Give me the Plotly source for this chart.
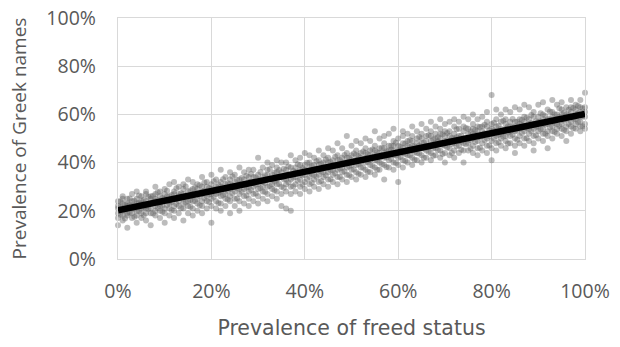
import plotly.graph_objects as go

# Prevalence of freed status (%) – x columns, and Greek-name prevalence (%) read per column
freed_0_20 = list(range(0, 20))
greek_0_20 = [
    [14,17,19,21,22,24],[16,18,20,21,23,25,26],[13,18,19,22,23,25],[17,19,21,22,24,27],
    [15,18,20,22,23,25,28],[17,19,21,23,24,26],[16,19,21,22,24,27,28],[14,19,21,23,25,26],
    [18,20,22,24,25,27,30],[17,20,22,23,26,28],[15,19,21,24,25,27,29],[18,21,23,24,26,31],
    [17,20,22,25,27,28,32],[19,22,24,26,27,30],[16,21,23,25,27,29,31],[19,22,24,26,28,33],
    [18,21,24,26,27,29,32],[20,23,25,27,29,31],[19,22,24,27,28,30,34],[21,24,26,28,30,32],
]
freed_20_40 = list(range(20, 40))
greek_20_40 = [
    [15,22,25,27,29,31,35],[21,24,27,29,30,33],[20,23,26,28,30,32,37],[22,25,27,29,31,34],
    [19,24,26,29,31,33,36],[22,25,28,30,32,35],[20,24,27,29,31,33,38],[23,26,29,31,33,36],
    [22,25,28,30,32,34,37],[24,27,30,32,34,37],[23,26,29,31,33,35,42],[25,28,30,32,34,38],
    [24,27,30,33,35,37,40],[26,29,31,33,35,39],[25,28,31,33,36,38,41],[22,27,30,34,36,40],
    [21,28,31,33,35,37,40],[20,27,30,33,35,38,43],[28,31,34,36,38,41],[27,30,33,35,37,39,42],
]
freed_40_60 = list(range(40, 60))
greek_40_60 = [
    [29,32,35,37,39,44],[28,31,34,36,38,40,43],[30,33,35,37,39,42],[29,32,35,37,39,41,45],
    [31,34,36,38,40,43],[30,33,36,38,40,42,46],[32,35,37,39,41,45],[31,34,37,39,41,43,48],
    [33,36,38,40,42,46],[32,35,38,40,42,44,51],[34,37,39,41,43,47],[33,36,39,41,43,45,49],
    [35,38,40,42,44,48],[34,37,40,42,44,46,50],[36,39,41,43,45,49],[35,38,41,43,45,47,53],
    [37,40,42,44,46,50],[33,39,42,44,46,48,51],[38,41,43,45,47,52],[37,40,43,45,47,49,54],
]
freed_60_80 = list(range(60, 80))
greek_60_80 = [
    [32,39,42,45,47,50],[38,41,44,46,48,51,53],[40,43,45,47,49,52],[39,42,45,47,49,51,55],
    [41,44,46,48,50,53],[40,43,46,48,50,52,56],[42,45,47,49,51,54],[41,44,47,49,51,53,57],
    [43,46,48,50,52,55],[42,45,48,50,52,54,58],[40,44,47,49,51,53,56],[43,46,49,51,53,57],
    [42,45,48,50,52,55,58],[44,47,49,51,54,57],[40,45,48,50,53,55,59],[45,48,50,52,54,58],
    [44,47,50,52,54,56,60],[43,46,49,51,53,55,58],[45,48,51,53,55,59],[44,47,50,52,55,57,61],
]
freed_80_100 = list(range(80, 101))
greek_80_100 = [
    [41,46,49,52,54,56,68],[45,48,51,53,55,58,62],[47,50,52,54,57,60],[46,49,51,54,56,58,62],
    [48,51,53,55,57,61],[44,47,50,53,55,57,63],[48,51,54,56,58,62],[47,50,53,55,57,59,64],
    [49,52,54,56,58,63],[45,48,51,54,56,59,61],[50,53,55,57,59,64],[49,52,54,56,58,60,65],
    [46,51,53,56,58,62],[50,53,55,57,59,61,66],[52,54,56,58,60,64],[51,54,56,58,60,62,65],
    [49,53,55,58,60,63],[52,55,57,59,61,63,66],[54,56,58,60,62,64],[53,55,57,59,61,63,66],
    [54,56,59,61,63,69],
]

# Points lying between the whole-percent columns (x = k + 0.5)
freed_half_0_50 = [k + 0.5 for k in range(0, 50)]
greek_half_0_50 = [
    [18.4,21.7,23.9],[16.8,20.1,22.5],[19.3,22.6,25.1],[17.5,20.8,24.2],[19.9,23.3,26.4],
    [18.2,21.4,24.7],[20.7,22.9,25.8],[18.9,23.6,26.1],[21.2,24.4,27.7],[19.6,22.1,25.3],
    [22.4,25.9,28.3],[20.3,23.7,26.6],[22.8,24.9,29.4],[21.1,25.8,27.3],[23.4,26.2,30.1],
    [21.7,24.5,28.4],[24.1,27.5,29.8],[22.3,26.1,30.6],[25.2,28.3,31.7],[23.6,26.9,29.5],
    [25.8,28.7,32.3],[23.2,27.4,30.9],[26.5,29.8,33.1],[24.7,28.2,31.4],[27.3,30.6,34.2],
    [25.1,29.3,32.8],[27.9,31.2,33.6],[26.4,29.7,34.5],[28.6,32.1,35.3],[27.2,30.8,33.9],
    [29.4,32.6,36.1],[27.8,31.5,34.7],[30.3,33.4,37.2],[28.5,32.2,35.8],[31.1,34.3,36.9],
    [29.6,33.1,37.5],[31.8,35.2,38.4],[30.2,33.7,36.6],[32.5,35.9,39.3],[30.9,34.6,37.8],
    [33.2,36.5,39.9],[31.6,35.3,38.7],[34.1,37.4,40.6],[32.4,36.2,39.5],[34.8,38.1,41.3],
    [33.1,36.9,40.2],[35.6,38.8,42.4],[34.0,37.6,41.1],[36.3,39.7,43.2],[34.7,38.4,42.0],
]
freed_half_50_100 = [k + 0.5 for k in range(50, 100)]
greek_half_50_100 = [
    [37.1,40.5,43.8],[35.4,39.2,42.7],[37.9,41.3,44.6],[36.2,40.1,43.5],[38.6,42.2,45.4],
    [37.0,40.8,44.3],[39.4,43.0,46.1],[38.2,42.1,44.7],[41.5,45.3,47.0],[39.8,43.1,48.2],
    [42.3,44.9,46.6],[40.7,43.6,47.9],[42.9,46.5,49.3],[41.2,44.3,46.8],[43.8,47.1,50.6],
    [42.0,45.7,48.2],[44.5,46.3,51.4],[42.8,46.1,49.7],[45.2,48.9,50.5],[43.6,47.3,51.8],
    [46.4,49.1,52.3],[44.0,47.7,50.2],[46.9,50.5,53.8],[45.3,48.6,51.1],[47.6,49.9,54.4],
    [45.8,49.3,52.9],[48.5,51.7,53.6],[46.2,50.4,54.8],[49.3,52.2,55.7],[47.1,50.9,53.4],
    [50.0,53.3,56.5],[48.4,51.6,55.3],[50.8,52.9,57.4],[47.9,52.5,55.0],[51.6,54.7,58.1],
    [49.5,53.2,56.9],[52.3,55.6,57.8],[50.1,54.3,58.6],[53.0,56.4,59.7],[51.4,54.9,57.2],
    [53.8,57.1,60.5],[52.0,55.7,59.3],[54.6,58.0,61.2],[52.7,56.3,60.1],[55.2,58.9,62.6],
    [53.5,57.4,60.8],[56.0,59.5,61.9],[54.3,58.2,62.7],[56.8,60.4,63.5],[55.1,59.1,62.4],
]

# Linear trend line (endpoints, %)
trend_x = [0, 100]
trend_y = [20.2, 60.2]

tick_vals = [0, 0.2, 0.4, 0.6, 0.8, 1.0]

xs, ys = [], []
for cols, vals in [(freed_0_20, greek_0_20), (freed_20_40, greek_20_40),
                   (freed_40_60, greek_40_60), (freed_60_80, greek_60_80),
                   (freed_80_100, greek_80_100),
                   (freed_half_0_50, greek_half_0_50), (freed_half_50_100, greek_half_50_100)]:
    for cx, col in zip(cols, vals):
        for v in col:
            xs.append(cx / 100)
            ys.append(v / 100)

fig = go.Figure()
fig.add_trace(go.Scatter(
    x=xs, y=ys, mode="markers",
    marker=dict(size=6, color="rgb(95,95,95)", opacity=0.42, line=dict(width=0)),
    showlegend=False, cliponaxis=False))
fig.add_trace(go.Scatter(
    x=[v / 100 for v in trend_x], y=[v / 100 for v in trend_y], mode="lines",
    line=dict(color="black", width=6.5), showlegend=False))

grid = "#d9d9d9"
txt = "#595959"
font = "Open Sans"
fig.update_layout(
    width=620, height=347,
    margin=dict(l=118, r=35, t=18, b=88),
    paper_bgcolor="white", plot_bgcolor="white",
    font=dict(family=font, color=txt, size=19.5),
)
fig.update_xaxes(
    range=[0, 1], tickvals=tick_vals, tickformat=".0%",
    showgrid=True, gridcolor=grid, gridwidth=1.3, zeroline=False,
    showline=True, linecolor=grid, linewidth=1.3, mirror=True,
    ticks="", ticklabelstandoff=14, ticklabeloverflow="allow",
    tickfont=dict(family=font, size=19.5, color=txt),
    title=dict(text="Prevalence of freed status",
               font=dict(family="DejaVu Sans", size=20.5, color=txt), standoff=18),
    automargin=False,
)
fig.update_yaxes(
    range=[0, 1], tickvals=tick_vals, tickformat=".0%",
    showgrid=True, gridcolor=grid, gridwidth=1.3, zeroline=False,
    showline=True, linecolor=grid, linewidth=1.3, mirror=True,
    ticks="", ticklabelstandoff=17, ticklabeloverflow="allow",
    tickfont=dict(family=font, size=19.5, color=txt),
    title=dict(text="Prevalence of Greek names",
               font=dict(family=font, size=19, color=txt), standoff=14),
    automargin=False,
)

fig.write_html("out.html", config={"displayModeBar": False},
               post_script="document.body.style.margin='0';")
